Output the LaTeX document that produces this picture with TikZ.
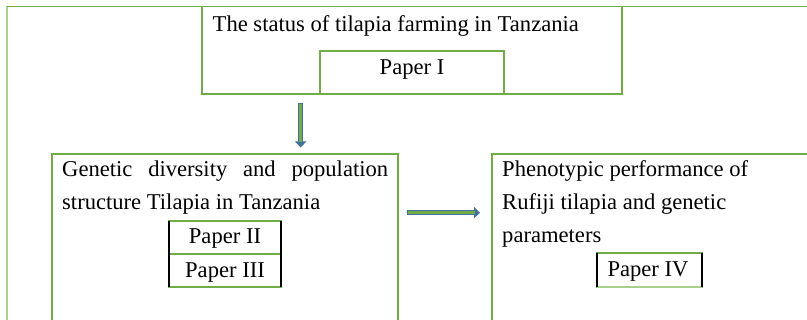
\documentclass[tikz,border=0pt]{standalone}
\usepackage{fontspec}
\setmainfont{Liberation Serif}
\usetikzlibrary{arrows.meta}
\definecolor{bgreen}{HTML}{70AD47}
\definecolor{lgreen}{HTML}{A9D18E}
\definecolor{ablue}{HTML}{41719C}
\begin{document}
\begin{tikzpicture}[x=1pt,y=-1pt,
  box/.style={draw=bgreen, line width=1.2pt, anchor=north west, inner sep=0pt, outer sep=0pt},
  lbl/.style={anchor=base west, inner sep=0pt, font=\fontsize{22.6}{33}\selectfont},
  clbl/.style={anchor=base, inner sep=0pt, font=\fontsize{22.6}{33}\selectfont},
  arrowout/.style={draw=ablue, line width=5pt, -{Triangle[width=11pt,length=6pt]}, color=ablue},
  arrowin/.style={draw=bgreen, line width=2.8pt, shorten >=5pt, shorten <=1.1pt},
  sidebar/.style={draw=black, line width=1.2pt}]
\clip (0,0) rectangle (807,320);
\fill[white] (0,0) rectangle (807,320);
% outer frame
\coordinate (fbl) at (7,330);
\coordinate (ftl) at (7,6.5);
\coordinate (ftr) at (815,6.5);
\draw[lgreen, line width=1.6pt] (fbl) -- (ftl);
\draw[bgreen, line width=1.2pt] (ftl) -- (ftr);
% top box
\node[box, minimum width=420pt, minimum height=87.5pt] (top) at (202,6.5) {};
\node[box, minimum width=184pt, minimum height=43pt] (p1) at (320,51) {};
\node[lbl] (ttxt) at (212.5,32) {The status of tilapia farming in Tanzania};
\node[clbl] (p1txt) at (412,75) {Paper I};
% left box
\node[box, minimum width=346pt, minimum height=190pt] (lbox) at (52,154) {};
\node[lbl] (g1) at (62,177) {\makebox[326pt][s]{Genetic diversity and population}};
\node[lbl] (g2) at (62,210) {structure Tilapia in Tanzania};
\node[box, minimum width=112pt, minimum height=33pt] (p2) at (169,221) {};
\node[box, minimum width=112pt, minimum height=33pt] (p3) at (169,254) {};
\draw[sidebar] (p2.north west) -- (p3.south west);
\draw[sidebar] (p2.north east) -- (p3.south east);
\node[clbl] (p2txt) at (225,244) {Paper II};
\node[clbl] (p3txt) at (225,278) {Paper III};
% right box
\node[box, minimum width=340pt, minimum height=190pt] (rbox) at (492,154) {};
\node[lbl] (r1) at (502,177) {Phenotypic performance of};
\node[lbl] (r2) at (502,210) {Rufiji tilapia and genetic};
\node[lbl] (r3) at (502,242.5) {parameters};
\node[box, minimum width=105pt, minimum height=34pt] (p4) at (597,253) {};
\draw[lgreen, line width=1.6pt] (p4.south west) -- (p4.south east);
\draw[sidebar] (p4.north west) -- (p4.south west);
\draw[sidebar] (p4.north east) -- (p4.south east);
\node[clbl] (p4txt) at (648,277) {Paper IV};
% arrows
\coordinate (d1) at (300.7,103);
\coordinate (d2) at (300.7,147.5);
\draw[arrowout] (d1) -- (d2);
\draw[arrowin] (d1) -- (d2);
\coordinate (h1) at (407,212.7);
\coordinate (h2) at (480,212.7);
\draw[arrowout] (h1) -- (h2);
\draw[arrowin] (h1) -- (h2);
\end{tikzpicture}
\end{document}
